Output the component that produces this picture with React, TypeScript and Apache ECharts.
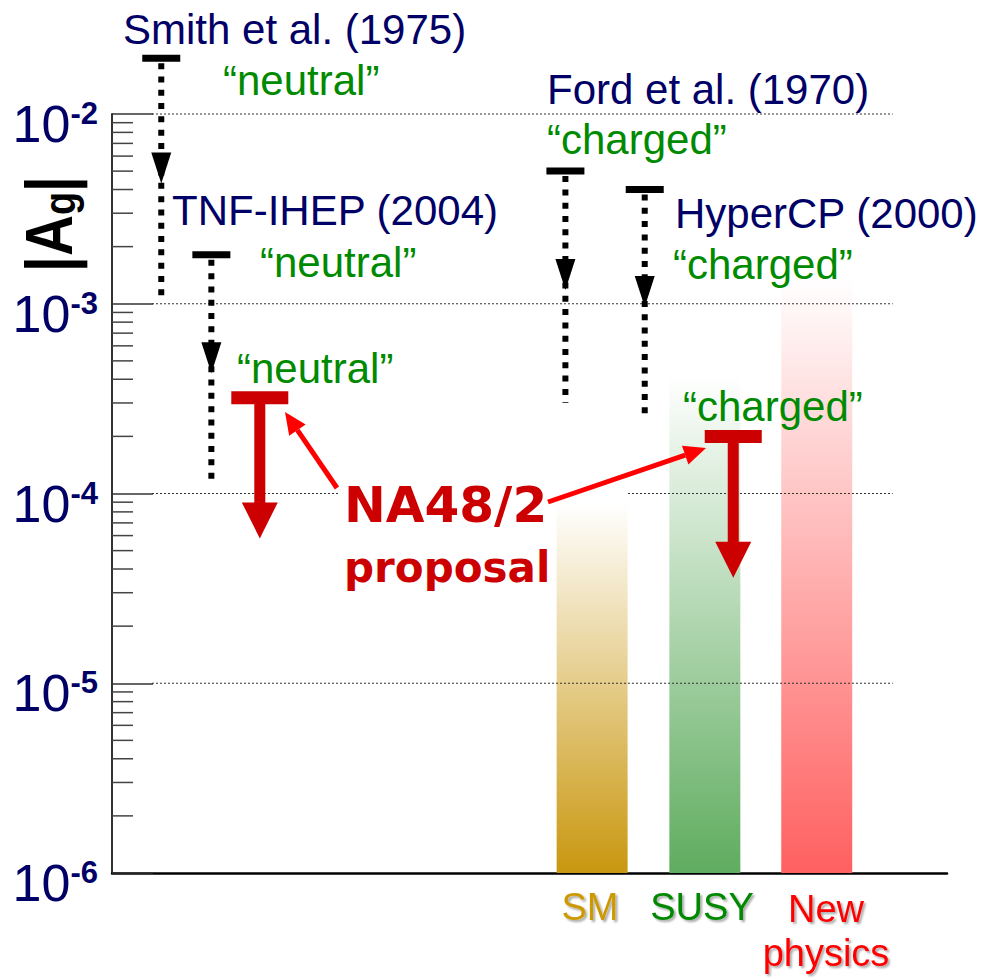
import React, { useEffect, useRef } from "react";
import * as echarts from "echarts";

// ---- data ----
const expNames = ["Smith et al. (1975)", "TNF-IHEP (2004)", "Ford et al. (1970)", "HyperCP (2000)"];
const expKinds = ["\u201Cneutral\u201D", "\u201Cneutral\u201D", "\u201Ccharged\u201D", "\u201Ccharged\u201D"];
const expX = [5.9, 11.9, 54.3, 63.8];
const expLimit = [1.97e-2, 1.81e-3, 5.0e-3, 4.0e-3];
const expArrowTip = [4.3e-3, 4.3e-4, 1.18e-3, 9.6e-4];
const expLineEnd = [1.1e-3, 1.15e-4, 3.0e-4, 2.5e-4];

const na48Kinds = ["\u201Cneutral\u201D", "\u201Ccharged\u201D"];
const na48X = [17.7, 74.4];
const na48Limit = [3.2e-4, 2.0e-4];
const na48ArrowTip = [5.8e-5, 3.6e-5];

const bandNames = ["SM", "SUSY", "New physics"];
const bandX = [57.5, 71.0, 84.4];
const bandTop = [8.9e-5, 4.2e-4, 1.38e-3];
const bandColors = ["#c9970f", "#5fac5f", "#ff6060"];
const bandRgb = ["201,151,15", "95,172,95", "255,96,96"];

const yMin = 1e-6;
const yMax = 1e-2;
const gridValues = [1e-5, 1e-4, 1e-3, 1e-2];
const minorMantissas = [2, 3, 4, 5, 6, 7, 8, 9];
const minorDecades = [1e-6, 1e-5, 1e-4, 1e-3];

const NAVY = "#000066";
const GREEN = "#008a00";
const RED = "#cc0000";
const ARIAL = "'Liberation Sans', Arial, sans-serif";

function arrow(x1: number, y1: number, x2: number, y2: number) {
  const dx = x2 - x1, dy = y2 - y1;
  const L = Math.hypot(dx, dy);
  const ux = dx / L, uy = dy / L;
  const headLen = 22, headW = 20;
  const bx = x2 - ux * headLen, by = y2 - uy * headLen;
  const px = -uy, py = ux;
  return [
    { type: "line", z: 20, shape: { x1, y1, x2: bx, y2: by }, style: { stroke: "#ff0000", lineWidth: 5 } },
    {
      type: "polygon", z: 20,
      shape: { points: [[x2, y2], [bx + px * headW / 2, by + py * headW / 2], [bx - px * headW / 2, by - py * headW / 2]] },
      style: { fill: "#ff0000" },
    },
  ];
}

function txt(text: string, x: number, y: number, color: string, extra: any = {}) {
  return {
    type: "text", z: 10, x, y,
    style: {
      text, fill: color, fontSize: 42, fontFamily: ARIAL,
      textAlign: "left", textVerticalAlign: "middle", ...extra,
    },
  };
}

export default function App() {
  const ref = useRef<HTMLDivElement>(null);
  useEffect(() => {
    if (!ref.current) return;
    const chart = echarts.init(ref.current, undefined, { renderer: "svg" });

    const minorData: number[][] = [];
    minorDecades.forEach((d) => minorMantissas.forEach((m) => minorData.push([0, m * d])));

    const xLabelStyle = {
      fontFamily: ARIAL,
      fontSize: 38,
      textAlign: "center",
      textVerticalAlign: "middle",
      lineHeight: 44,
      textShadowColor: "rgba(0,0,0,0.35)",
      textShadowOffsetX: 2,
      textShadowOffsetY: 2,
      textShadowBlur: 2,
    };

    const option: any = {
      animation: false,
      backgroundColor: "#ffffff",
      grid: { left: 112, right: 36, top: 114, bottom: 106, containLabel: false },
      xAxis: {
        type: "value", min: 0, max: 100,
        axisLine: { show: true, onZero: false, lineStyle: { color: "#000", width: 2.5 } },
        axisTick: { show: false }, axisLabel: { show: false }, splitLine: { show: false },
      },
      yAxis: {
        type: "log", logBase: 10, min: yMin, max: yMax,
        axisLine: { show: true, lineStyle: { color: "#333", width: 2 } },
        axisTick: { show: true, inside: true, length: 41, lineStyle: { color: "#333", width: 1.5 } },
        splitLine: { show: false },
        minorTick: { show: false },
        axisLabel: {
          margin: 14,
          padding: [20, 0, 0, 0],
          formatter: (v: number) => `{b|10}{s|${Math.round(Math.log10(v))}}`,
          rich: {
            b: { fontSize: 52, fontFamily: ARIAL, color: NAVY, lineHeight: 52 },
            s: { fontSize: 31, fontWeight: "bold", fontFamily: ARIAL, color: NAVY, lineHeight: 31, verticalAlign: "top" },
          },
        },
      },
      series: [
        {
          type: "custom", name: "bands", z: 1, clip: false,
          data: bandX.map((x, i) => [x, bandTop[i], i]),
          renderItem: (params: any, api: any) => {
            const x = api.value(0), top = api.value(1), i = api.value(2);
            const p1 = api.coord([x - 4.25, top]);
            const p2 = api.coord([x + 4.25, yMin]);
            return {
              type: "rect",
              shape: { x: p1[0], y: p1[1], width: p2[0] - p1[0], height: p2[1] - p1[1] },
              style: {
                fill: new echarts.graphic.LinearGradient(0, 0, 0, 1, [
                  { offset: 0, color: `rgba(${bandRgb[i]},0)` },
                  { offset: 1, color: bandColors[i] },
                ]),
              },
            };
          },
        },
        {
          type: "custom", name: "grid", z: 2, clip: false,
          data: gridValues.map((v) => [0, v]),
          renderItem: (params: any, api: any) => {
            const p1 = api.coord([0, api.value(1)]);
            const p2 = api.coord([93.5, api.value(1)]);
            return {
              type: "line",
              shape: { x1: p1[0] + 40, y1: p1[1], x2: p2[0], y2: p2[1] },
              style: { stroke: "#333", lineWidth: 1, lineDash: [2, 2] },
            };
          },
        },
        {
          type: "custom", name: "minor", z: 2, clip: false,
          data: minorData,
          renderItem: (params: any, api: any) => {
            const p = api.coord([0, api.value(1)]);
            return {
              type: "line",
              shape: { x1: p[0], y1: p[1], x2: p[0] + 21, y2: p[1] },
              style: { stroke: "#444", lineWidth: 1.5 },
            };
          },
        },
        {
          type: "custom", name: "experiments", z: 3, clip: false,
          data: expX.map((x, i) => [x, expLimit[i], expArrowTip[i], expLineEnd[i]]),
          renderItem: (params: any, api: any) => {
            const x = api.value(0);
            const cap = api.coord([x, api.value(1)]);
            const tip = api.coord([x, api.value(2)]);
            const end = api.coord([x, api.value(3)]);
            return {
              type: "group",
              children: [
                {
                  type: "line",
                  shape: { x1: cap[0], y1: cap[1] + 5, x2: cap[0], y2: end[1] },
                  style: { stroke: "#000", lineWidth: 6, lineDash: [6, 7.3] },
                },
                { type: "rect", shape: { x: cap[0] - 19, y: cap[1] - 3.5, width: 38, height: 7 }, style: { fill: "#000" } },
                {
                  type: "polygon",
                  shape: { points: [[tip[0] - 10, tip[1] - 31], [tip[0] + 10, tip[1] - 31], [tip[0], tip[1]]] },
                  style: { fill: "#000" },
                },
              ],
            };
          },
        },
        {
          type: "custom", name: "NA48/2", z: 4, clip: false,
          data: na48X.map((x, i) => [x, na48Limit[i], na48ArrowTip[i]]),
          renderItem: (params: any, api: any) => {
            const x = api.value(0);
            const cap = api.coord([x, api.value(1)]);
            const tip = api.coord([x, api.value(2)]);
            return {
              type: "group",
              children: [
                { type: "rect", shape: { x: cap[0] - 28.5, y: cap[1] - 6.5, width: 57, height: 13 }, style: { fill: RED } },
                { type: "rect", shape: { x: cap[0] - 5.5, y: cap[1], width: 11, height: tip[1] - 34 - cap[1] }, style: { fill: RED } },
                {
                  type: "polygon",
                  shape: { points: [[tip[0] - 18, tip[1] - 36], [tip[0] + 18, tip[1] - 36], [tip[0], tip[1]]] },
                  style: { fill: RED },
                },
              ],
            };
          },
        },
      ],
      graphic: [
        // y axis title |A_g|
        {
          type: "text", z: 10, x: 49, y: 224, rotation: Math.PI / 2, scaleX: 0.86,
          style: {
            text: "{b||A}{g|g}{b||}",
            textAlign: "center", textVerticalAlign: "middle",
            rich: {
              b: { fontSize: 66, fontWeight: "bold", fontFamily: ARIAL, fill: "#000", color: "#000", lineHeight: 66 },
              g: { fontSize: 44, fontWeight: "bold", fontFamily: ARIAL, fill: "#000", color: "#000", lineHeight: 46, verticalAlign: "bottom" },
            },
          },
        },
        // experiment labels
        txt(expNames[0], 123, 29, NAVY),
        txt(expKinds[0], 223, 80, GREEN),
        txt(expNames[1], 172, 210, NAVY),
        txt(expKinds[1], 260, 262, GREEN),
        txt(expNames[2], 547, 89, NAVY),
        txt(expKinds[2], 547, 139, GREEN),
        txt(expNames[3], 675, 213, NAVY),
        txt(expKinds[3], 673, 264, GREEN),
        txt(na48Kinds[0], 237, 368, GREEN),
        txt(na48Kinds[1], 683, 406, GREEN),
        // NA48/2 proposal annotation
        { type: "rect", z: 5, shape: { x: 338, y: 480, width: 290, height: 23 }, style: { fill: "#fff" } },
        txt("NA48/2", 344, 505, RED, { fontSize: 50, fontWeight: "bold", fontFamily: "'Comic Sans MS', 'DejaVu Sans', sans-serif" }),
        txt("proposal", 344, 567, RED, { fontSize: 42, fontWeight: "bold", fontFamily: "'Comic Sans MS', 'DejaVu Sans', sans-serif" }),
        ...arrow(337, 488, 285, 412),
        ...arrow(548, 502, 706, 448),
        // category labels
        { type: "text", z: 10, x: 590, y: 907, style: { text: bandNames[0], fill: "#cc9900", ...xLabelStyle } },
        { type: "text", z: 10, x: 702, y: 907, style: { text: bandNames[1], fill: "#008800", ...xLabelStyle } },
        { type: "text", z: 10, x: 826, y: 931, style: { text: bandNames[2].replace(" ", "\n"), fill: "#ff0000", ...xLabelStyle } },
      ],
    };

    chart.setOption(option);
    return () => chart.dispose();
  }, []);

  return (
    <div
      ref={ref}
      style={{ position: "absolute", left: 0, top: 0, width: 983, height: 979, background: "#fff" }}
    />
  );
}
